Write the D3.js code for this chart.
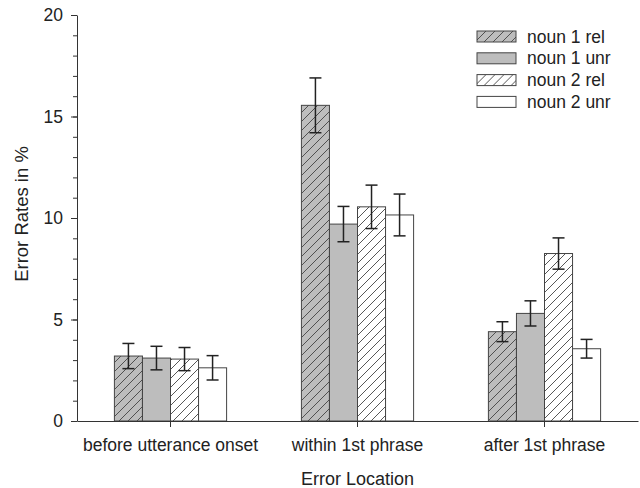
<!DOCTYPE html>
<html>
<head>
<meta charset="utf-8">
<script src="https://cdn.jsdelivr.net/npm/d3@7"></script>
<style>
  body { margin: 0; background: #fff; }
  svg { font-family: "Liberation Sans", Arial, sans-serif; }
</style>
</head>
<body>
<svg id="chart" width="640" height="488"></svg>
<script>
// data
const categories = ['before utterance onset', 'within 1st phrase', 'after 1st phrase'];
const seriesNames = ['noun 1 rel', 'noun 1 unr', 'noun 2 rel', 'noun 2 unr'];
const noun1Rel = [3.2, 15.55, 4.4];
const noun1Unr = [3.1, 9.7, 5.3];
const noun2Rel = [3.05, 10.55, 8.25];
const noun2Unr = [2.62, 10.15, 3.56];
const err1Rel = [0.62, 1.35, 0.49];
const err1Unr = [0.58, 0.87, 0.62];
const err2Rel = [0.57, 1.07, 0.77];
const err2Unr = [0.6, 1.03, 0.46];
const yTicks = [0, 5, 10, 15, 20];

const series = [
  { name: seriesNames[0], values: noun1Rel, errs: err1Rel, fill: '#bdbdbd', hatch: true },
  { name: seriesNames[1], values: noun1Unr, errs: err1Unr, fill: '#bdbdbd', hatch: false },
  { name: seriesNames[2], values: noun2Rel, errs: err2Rel, fill: '#ffffff', hatch: true },
  { name: seriesNames[3], values: noun2Unr, errs: err2Unr, fill: '#ffffff', hatch: false }
];

const svg = d3.select('#chart');
const plotLeft = 77, plotRight = 638, plotTop = 15, plotBottom = 421;
const fs = 17.5;

const x0 = d3.scaleBand().domain(categories).range([plotLeft, plotRight]).paddingInner(0.4).paddingOuter(0.2);
const x1 = d3.scaleBand().domain(seriesNames).range([0, x0.bandwidth()]);
const y = d3.scaleLinear().domain([0, 20]).range([plotBottom, plotTop]);

// hatch patterns
const defs = svg.append('defs');
function hatch (id, bg) {
  const p = defs.append('pattern').attr('id', id)
    .attr('patternUnits', 'userSpaceOnUse')
    .attr('width', 9).attr('height', 9);
  p.append('rect').attr('width', 9).attr('height', 9).attr('fill', bg);
  p.append('path').attr('d', 'M-2,2 l4,-4 M0,9 l9,-9 M7,11 l4,-4')
    .attr('stroke', '#444').attr('stroke-width', 0.9);
}
hatch('hatchGray', '#bdbdbd');
hatch('hatchWhite', '#ffffff');
function fillOf (s) {
  if (!s.hatch) return s.fill;
  return s.fill === '#ffffff' ? 'url(#hatchWhite)' : 'url(#hatchGray)';
}

// bars
const groups = svg.append('g').selectAll('g')
  .data(series).enter().append('g');

groups.selectAll('rect')
  .data(function (s) { return s.values.map(function (v, i) { return { s: s, v: v, c: categories[i] }; }); })
  .enter().append('rect')
  .attr('x', function (d) { return x0(d.c) + x1(d.s.name); })
  .attr('y', function (d) { return y(d.v); })
  .attr('width', x1.bandwidth())
  .attr('height', function (d) { return y(0) - y(d.v); })
  .attr('fill', function (d) { return fillOf(d.s); })
  .attr('stroke', '#444').attr('stroke-width', 1);

// error bars
const eb = svg.append('g').attr('stroke', '#222').attr('stroke-width', 1.5);
series.forEach(function (s) {
  s.values.forEach(function (v, i) {
    const cx = x0(categories[i]) + x1(s.name) + x1.bandwidth() / 2;
    const hi = y(v + s.errs[i]), lo = y(v - s.errs[i]);
    eb.append('line').attr('x1', cx).attr('x2', cx).attr('y1', hi).attr('y2', lo);
    eb.append('line').attr('x1', cx - 6).attr('x2', cx + 6).attr('y1', hi).attr('y2', hi);
    eb.append('line').attr('x1', cx - 6).attr('x2', cx + 6).attr('y1', lo).attr('y2', lo);
  });
});

// y axis with minor ticks
svg.append('g').attr('transform', 'translate(' + plotLeft + ',0)')
  .call(d3.axisLeft(y).tickValues(d3.range(0, 21, 1)).tickSize(4).tickFormat(''))
  .call(function (g) { g.select('.domain').remove(); g.selectAll('line').attr('stroke', '#333'); });
svg.append('g').attr('transform', 'translate(' + plotLeft + ',0)')
  .call(d3.axisLeft(y).tickValues(yTicks).tickSize(6).tickPadding(8).tickSizeOuter(0))
  .call(function (g) {
    g.selectAll('text').attr('font-size', fs).attr('fill', '#222');
    g.selectAll('line, path').attr('stroke', '#333');
  });

// x axis
svg.append('g').attr('transform', 'translate(0,' + plotBottom + ')')
  .call(d3.axisBottom(x0).tickSize(6).tickPadding(12).tickSizeOuter(0))
  .call(function (g) {
    g.selectAll('text').attr('font-size', fs).attr('fill', '#222');
    g.selectAll('line, path').attr('stroke', '#333');
  });

// axis titles
svg.append('text').attr('x', (plotLeft + plotRight) / 2).attr('y', 485)
  .attr('text-anchor', 'middle').attr('font-size', 18).attr('fill', '#222')
  .text('Error Location');
svg.append('text').attr('transform', 'translate(28,214) rotate(-90)')
  .attr('text-anchor', 'middle').attr('font-size', 18.5).attr('fill', '#222')
  .text('Error Rates in %');

// legend
const legend = svg.append('g').attr('transform', 'translate(477,31)');
series.forEach(function (s, i) {
  const row = legend.append('g').attr('transform', 'translate(0,' + i * 21.8 + ')');
  row.append('rect').attr('width', 39).attr('height', 11)
    .attr('fill', fillOf(s)).attr('stroke', '#444');
  row.append('text').attr('x', 50).attr('y', 11.5)
    .attr('font-size', fs).attr('fill', '#222').text(s.name);
});
</script>
</body>
</html>
